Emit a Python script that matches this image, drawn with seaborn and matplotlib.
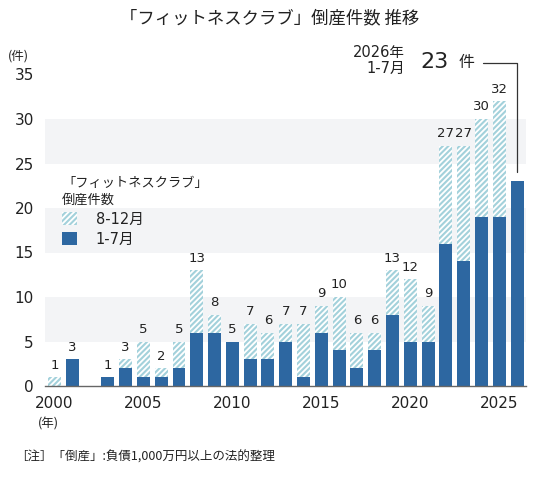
import numpy as np
import pandas as pd
import matplotlib
matplotlib.use('Agg')
import matplotlib.pyplot as plt
from matplotlib.patches import Patch
import seaborn as sns

years_full = list(range(2000, 2026))
full_year = [1, 3, 0, 1, 3, 5, 2, 5, 13, 8, 5, 7, 6, 7, 7, 9, 10, 6, 6, 13, 12, 9, 27, 27, 30, 32]
years_ytd = list(range(2000, 2027))
jan_jul = [0, 3, 0, 1, 2, 1, 1, 2, 6, 6, 5, 3, 3, 5, 1, 6, 4, 2, 4, 8, 5, 5, 16, 14, 19, 19, 23]
x_ticks = [2000, 2005, 2010, 2015, 2020, 2025]
y_ticks = [0, 5, 10, 15, 20, 25, 30, 35]

solid_c = '#2d67a1'
hatch_c = '#a3d1db'
text_c = '#222222'

sns.set_style('white')
plt.rcParams['font.family'] = ['DejaVu Sans', 'Noto Sans CJK JP']
plt.rcParams['hatch.linewidth'] = 1.5

df_full = pd.DataFrame({'year': years_full, 'count': full_year})
df_ytd = pd.DataFrame({'year': years_ytd, 'count': jan_jul})

W, H = 543, 479
fig = plt.figure(figsize=(W / 100, H / 100), dpi=100)
ax = fig.add_axes([45 / W, 1 - 386 / H, (526 - 45) / W, (386 - 74.5) / H])

# light grey bands behind the bars
for lo in (5, 15, 25):
    ax.axhspan(lo, lo + 5, color='#f3f4f6', lw=0, zorder=0)

# full-year totals, hatched (the 8-12 part shows above the solid bar)
sns.barplot(data=df_full, x='year', y='count', native_scale=True, width=0.73,
            color='white', errorbar=None, ax=ax, zorder=2)
for p in ax.patches:
    if p.get_zorder() == 2:
        p.set_facecolor('white')
        p.set_edgecolor(hatch_c)
        p.set_linewidth(0)
        p.set_hatch('//////')

# jan-jul counts, solid
sns.barplot(data=df_ytd, x='year', y='count', native_scale=True, width=0.73,
            color=solid_c, saturation=1, errorbar=None, ax=ax, zorder=3)
for p in ax.patches:
    if p.get_zorder() == 3:
        p.set_linewidth(0)

for yr, v in zip(years_full, full_year):
    if v > 0:
        ax.annotate(str(v), (yr, v), xytext=(0, 4), textcoords='offset points',
                    ha='center', va='bottom', fontsize=9.5, color=text_c)

ax.set_xlim(1999.47, 2026.5)
ax.set_ylim(0, 35)
ax.set_xticks(x_ticks)
ax.set_xticklabels([str(t) for t in x_ticks])
ax.set_yticks(y_ticks)
ax.tick_params(axis='both', length=0, labelsize=11, colors=text_c)
ax.tick_params(axis='y', pad=8)
ax.tick_params(axis='x', pad=7)
ax.set_xlabel('')
ax.set_ylabel('')
for s in ('top', 'right', 'left'):
    ax.spines[s].set_visible(False)
ax.spines['bottom'].set_color('#666666')
ax.spines['bottom'].set_linewidth(1)
ax.spines['bottom'].set_zorder(5)

# callout for 2026
last = jan_jul[-1]
ax.plot([2024.09, 2026, 2026], [36.3, 36.3, last + 1], color='#333333', lw=0.9,
        clip_on=False, zorder=6)

fig.text(405 / W, 1 - 53 / H, '2026年', ha='right', va='center', fontsize=10.5, color=text_c)
fig.text(405 / W, 1 - 68 / H, '1-7月', ha='right', va='center', fontsize=10.5, color=text_c)
fig.text(420 / W, 1 - 62 / H, str(last), ha='left', va='center', fontsize=16, color=text_c)
fig.text(459 / W, 1 - 62 / H, '件', ha='left', va='center', fontsize=11.5, color=text_c,
         family=['Noto Sans CJK JP'])

cjk = ['Noto Sans CJK JP', 'DejaVu Sans']
fig.text(270 / W, 1 - 18 / H, '「フィットネスクラブ」倒産件数 推移', ha='center', va='center',
         fontsize=12.5, color=text_c, family=cjk)
fig.text(8 / W, 1 - 56 / H, '(件)', ha='left', va='center', fontsize=9, color=text_c, family=cjk)
fig.text(38 / W, 1 - 424 / H, '(年)', ha='left', va='center', fontsize=9, color=text_c, family=cjk)
fig.text(15 / W, 1 - 457 / H, '［注］「倒産」:負債1,000万円以上の法的整理', ha='left', va='center',
         fontsize=9, color=text_c, family=cjk)

handles = [Patch(facecolor='white', edgecolor=hatch_c, hatch='//////', lw=0),
           Patch(facecolor=solid_c, lw=0)]
leg = ax.legend(handles, ['8-12月', '1-7月'], title='「フィットネスクラブ」\n倒産件数',
                loc='upper left', bbox_to_anchor=(62 / W, 1 - 177 / H),
                bbox_transform=fig.transFigure, frameon=False, alignment='left',
                fontsize=10.5, title_fontsize=9.5, handlelength=1.0, handleheight=1.0,
                handletextpad=1.3, labelspacing=0.35, borderpad=0, borderaxespad=0)
leg.get_title().set_color(text_c)
leg.get_title().set_family(cjk)
leg.get_title().set_linespacing(1.35)
for t in leg.get_texts():
    t.set_color(text_c)

fig.savefig('out.png', dpi=100)
